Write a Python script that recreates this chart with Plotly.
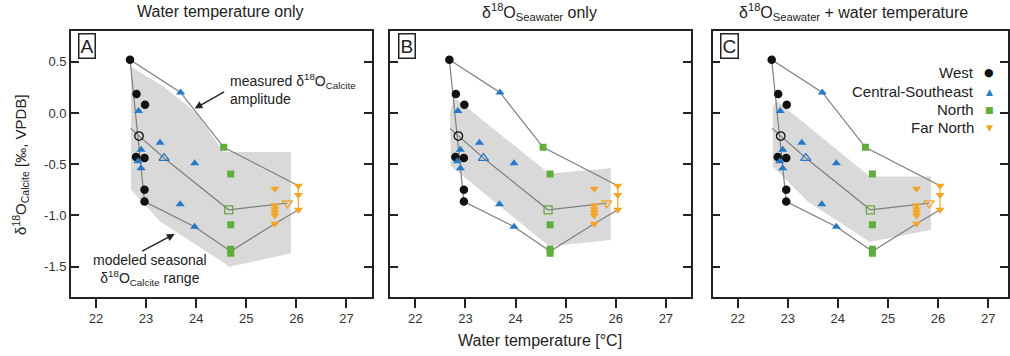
import plotly.graph_objects as go

W, H = 1010, 356

# ---------------- data ----------------
west_T = [22.68, 22.81, 22.98, 22.80, 22.97, 22.97, 22.97]
west_d = [0.52, 0.185, 0.08, -0.43, -0.44, -0.75, -0.865]
west_open_T = [22.86]
west_open_d = [-0.225]

cse_T = [23.69, 22.85, 23.28, 22.90, 23.97, 22.84, 22.90, 23.68, 23.97]
cse_d = [0.20, 0.02, -0.29, -0.36, -0.49, -0.47, -0.54, -0.89, -1.11]
cse_open_T = [23.36]
cse_open_d = [-0.44]

north_T = [24.55, 24.69, 24.69, 24.69, 24.69]
north_d = [-0.335, -0.595, -1.09, -1.33, -1.37]
north_open_T = [24.65]
north_open_d = [-0.945]

far_T = [25.57, 25.57, 25.57, 25.57, 25.57, 25.57, 26.04, 26.04, 26.04]
far_d = [-0.74, -0.90, -0.94, -0.97, -1.00, -1.08, -0.71, -0.80, -0.945]
far_open_T = [25.82]
far_open_d = [-0.88]

# measured amplitude envelope
upper_T = [22.68, 23.69, 24.55, 26.04]
upper_d = [0.52, 0.20, -0.335, -0.71]
lower_T = [22.68, 22.97, 23.97, 24.69, 25.57, 26.04]
lower_d = [0.52, -0.865, -1.11, -1.35, -1.08, -0.945]
mean_T = [22.69, 22.86, 23.36, 24.65, 25.82]
mean_d = [-0.15, -0.225, -0.44, -0.945, -0.88]
far_range_T = [26.04, 26.04]
far_range_d = [-0.71, -0.945]

# modeled seasonal range polygons
shadeA_T = [22.70, 23.34, 24.01, 24.55, 25.89, 25.89, 24.67, 23.28, 22.70]
shadeA_d = [0.45, 0.26, 0.0, -0.38, -0.38, -1.37, -1.50, -1.06, -0.75]
shadeB_T = [22.78, 24.67, 25.90, 25.90, 24.67, 23.68, 22.71, 22.69]
shadeB_d = [0.15, -0.59, -0.54, -1.24, -1.30, -0.91, -0.52, 0.0]
shadeC_T = [22.78, 24.64, 25.86, 25.86, 24.64, 23.41, 22.70, 22.70]
shadeC_d = [0.12, -0.62, -0.62, -1.14, -1.26, -0.87, -0.52, 0.05]

panel_titles = ["Water temperature only",
                "δ<sup>18</sup>O<sub>Seawater</sub> only",
                "δ<sup>18</sup>O<sub>Seawater</sub> + water temperature"]
panel_letters = ["A", "B", "C"]
x_ticks = [22, 23, 24, 25, 26, 27]
y_ticks = [0.5, 0.0, -0.5, -1.0, -1.5]
y_ticklabels = ["0.5", "0.0", "-0.5", "-1.0", "-1.5"]
legend_names = ["West", "Central-Southeast", "North", "Far North"]
legend_symbols = ["●", "▲", "■", "▼"]

# ---------------- styling ----------------
C_WEST = "#111111"
C_CSE = "#2878c8"
C_NORTH = "#5fae3c"
C_FAR = "#f2a526"
C_LINE = "#7f7f7f"
C_SHADE = "#d9d9d9"
FONT = "Liberation Sans"
AX = "#222222"

fig = go.Figure()

shades = [(shadeA_T, shadeA_d), (shadeB_T, shadeB_d), (shadeC_T, shadeC_d)]
for i, (sT, sd) in enumerate(shades):
    xa = "x" if i == 0 else f"x{i+1}"
    ya = "y" if i == 0 else f"y{i+1}"
    fig.add_trace(go.Scatter(x=sT + [sT[0]], y=sd + [sd[0]], mode="lines", fill="toself",
                             fillcolor=C_SHADE, line=dict(width=0), xaxis=xa, yaxis=ya,
                             showlegend=False, hoverinfo="skip"))
    for lT, ld, col in [(upper_T, upper_d, C_LINE), (lower_T, lower_d, C_LINE),
                        (mean_T, mean_d, C_LINE), (far_range_T, far_range_d, C_FAR)]:
        fig.add_trace(go.Scatter(x=lT, y=ld, mode="lines", line=dict(color=col, width=1.2),
                                 xaxis=xa, yaxis=ya, showlegend=False, hoverinfo="skip"))
    groups = [
        (west_T, west_d, "circle", C_WEST, 8.5),
        (cse_T, cse_d, "triangle-up", C_CSE, 8),
        (north_T, north_d, "square", C_NORTH, 7),
        (far_T, far_d, "triangle-down", C_FAR, 8),
    ]
    opens = [
        (west_open_T, west_open_d, "circle-open", C_WEST, 8.5),
        (cse_open_T, cse_open_d, "triangle-up-open", C_CSE, 9),
        (north_open_T, north_open_d, "square-open", C_NORTH, 8),
        (far_open_T, far_open_d, "triangle-down-open", C_FAR, 9),
    ]
    for gT, gd, sym, col, sz in groups:
        fig.add_trace(go.Scatter(x=gT, y=gd, mode="markers",
                                 marker=dict(symbol=sym, color=col, size=sz, line=dict(width=0)),
                                 xaxis=xa, yaxis=ya, showlegend=False))
    for gT, gd, sym, col, sz in opens:
        fig.add_trace(go.Scatter(x=gT, y=gd, mode="markers",
                                 marker=dict(symbol=sym, color=col, size=sz, line=dict(width=1.3, color=col)),
                                 xaxis=xa, yaxis=ya, showlegend=False))

# axes
domains_px = [(71, 372.3), (391, 692.3), (714, 1010)]
xranges = [[21.5, 27.5], [21.5, 27.5], [21.5, 21.5 + (1010 - 714) / 50.2]]
ydom = [1 - 296.7 / H, 1 - 31 / H]
yrange = [-1.793, 0.80]

layout = dict(width=W, height=H, margin=dict(l=0, r=0, t=0, b=0),
              paper_bgcolor="white", plot_bgcolor="white",
              font=dict(family=FONT, color="#222222"), showlegend=False)
for i in range(3):
    xk = "xaxis" if i == 0 else f"xaxis{i+1}"
    yk = "yaxis" if i == 0 else f"yaxis{i+1}"
    xa_anchor = "y" if i == 0 else f"y{i+1}"
    ya_anchor = "x" if i == 0 else f"x{i+1}"
    layout[xk] = dict(domain=[domains_px[i][0] / W, domains_px[i][1] / W], range=xranges[i],
                      anchor=xa_anchor, showgrid=False, zeroline=False, showline=True,
                      linecolor=AX, linewidth=1.6, mirror=True, ticks="outside", ticklen=9,
                      tickwidth=1.6, tickcolor=AX, tickvals=x_ticks,
                      tickfont=dict(size=13, color="#333333", family=FONT))
    layout[yk] = dict(domain=ydom, range=yrange, anchor=ya_anchor, showgrid=False,
                      zeroline=False, showline=True, linecolor=AX, linewidth=1.6,
                      mirror="ticks", ticks="inside", ticklen=8, tickwidth=1.6, tickcolor=AX,
                      tickvals=y_ticks, ticktext=y_ticklabels, showticklabels=(i == 0),
                      tickfont=dict(size=13, color="#333333", family=FONT))
fig.update_layout(**layout)

ann = []
title_cx = [221, 541, 855]
for i in range(3):
    ann.append(dict(x=title_cx[i] / W, y=1 - 12 / H, xref="paper", yref="paper",
                    text=panel_titles[i], showarrow=False, xanchor="center", yanchor="middle",
                    font=dict(size=16, color="#222222", family=FONT)))
    ann.append(dict(x=(domains_px[i][0] + 16.5) / W, y=1 - 46 / H, xref="paper", yref="paper",
                    text=panel_letters[i], showarrow=False, xanchor="center", yanchor="middle",
                    font=dict(size=19, color="#222222", family=FONT),
                    bordercolor="#222222", borderwidth=1.5, borderpad=1, bgcolor="white"))

# axis titles
ann.append(dict(x=541 / W, y=1 - 340 / H, xref="paper", yref="paper",
                text="Water temperature [°C]", showarrow=False, xanchor="center", yanchor="middle",
                font=dict(size=16, color="#222222", family=FONT)))
ann.append(dict(x=20 / W, y=1 - 164 / H, xref="paper", yref="paper", textangle=-90,
                text="δ<sup>18</sup>O<sub>Calcite</sub> [‰, VPDB]", showarrow=False,
                xanchor="center", yanchor="middle",
                font=dict(size=15, color="#222222", family=FONT)))

# panel A callouts
ann.append(dict(x=228 / W, y=1 - 89 / H, xref="paper", yref="paper", align="left",
                text="measured δ<sup>18</sup>O<sub>Calcite</sub><br>amplitude", showarrow=False,
                xanchor="left", yanchor="middle", font=dict(size=14, color="#222222", family=FONT)))
ann.append(dict(x=195 / W, y=1 - 108.5 / H, xref="paper", yref="paper", ax=31, ay=-17.5,
                axref="pixel", ayref="pixel", text="", showarrow=True,
                arrowhead=2, arrowsize=1.1, arrowwidth=1.4, arrowcolor="#222222"))
ann.append(dict(x=150 / W, y=1 - 270 / H, xref="paper", yref="paper", align="center",
                text="modeled seasonal<br>δ<sup>18</sup>O<sub>Calcite</sub> range", showarrow=False,
                xanchor="center", yanchor="middle", font=dict(size=14, color="#222222", family=FONT)))
ann.append(dict(x=175 / W, y=1 - 234 / H, xref="paper", yref="paper", ax=-34, ay=18,
                axref="pixel", ayref="pixel", text="", showarrow=True,
                arrowhead=2, arrowsize=1.1, arrowwidth=1.4, arrowcolor="#222222"))

# legend in panel C
leg_y = [72.7, 91.7, 109.5, 127.7]
leg_cols = [C_WEST, C_CSE, C_NORTH, C_FAR]
leg_sizes = [11, 9, 9, 9]
for name, sym, yy, col, ss in zip(legend_names, legend_symbols, leg_y, leg_cols, leg_sizes):
    ann.append(dict(x=978 / W, y=1 - yy / H, xref="paper", yref="paper", text=name,
                    showarrow=False, xanchor="right", yanchor="middle",
                    font=dict(size=15, color="#222222", family=FONT)))
    ann.append(dict(x=991 / W, y=1 - yy / H, xref="paper", yref="paper", text=sym,
                    showarrow=False, xanchor="center", yanchor="middle",
                    font=dict(size=ss, color=col, family="DejaVu Sans")))

fig.update_layout(annotations=ann)
fig.write_html("out.html")
